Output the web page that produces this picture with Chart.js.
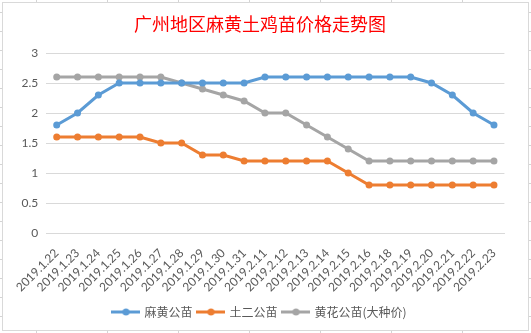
<!DOCTYPE html>
<html>
<head>
<meta charset="utf-8">
<script src="https://cdn.jsdelivr.net/npm/chart.js@4/dist/chart.umd.min.js"></script>
<style>
  html, body { margin: 0; padding: 0; }
  body {
    width: 531px; height: 333px; overflow: hidden; position: relative;
    background-color: #fff;
    background-image:
      linear-gradient(to right, #d4d4d4 1px, transparent 1px),
      linear-gradient(to bottom, #d4d4d4 1px, transparent 1px);
    background-size: 71px 19px;
    background-position: 36px 12px;
  }
  #wrap {
    position: absolute; left: 2px; top: 2px;
    width: 525px; height: 327px;
    border: 1px solid #d9d9d9; background: #fff;
  }
  canvas { display: block; }
</style>
</head>
<body>
<div id="wrap"><canvas id="c" width="525" height="327"></canvas></div>
<script>
const categories = ["2019.1.22","2019.1.23","2019.1.24","2019.1.25","2019.1.26","2019.1.27","2019.1.28","2019.1.29","2019.1.30","2019.1.31","2019.2.11","2019.2.12","2019.2.13","2019.2.14","2019.2.15","2019.2.16","2019.2.18","2019.2.19","2019.2.20","2019.2.21","2019.2.22","2019.2.23"];
const mahuangValues = [1.8,2.0,2.3,2.5,2.5,2.5,2.5,2.5,2.5,2.5,2.6,2.6,2.6,2.6,2.6,2.6,2.6,2.6,2.5,2.3,2.0,1.8];
const tuerValues = [1.6,1.6,1.6,1.6,1.6,1.5,1.5,1.3,1.3,1.2,1.2,1.2,1.2,1.2,1.0,0.8,0.8,0.8,0.8,0.8,0.8,0.8];
const huanghuaValues = [2.6,2.6,2.6,2.6,2.6,2.6,2.5,2.4,2.3,2.2,2.0,2.0,1.8,1.6,1.4,1.2,1.2,1.2,1.2,1.2,1.2,1.2];
const seriesNames = ["麻黄公苗","土二公苗","黄花公苗(大种价)"];
const titleText = "广州地区麻黄土鸡苗价格走势图";

const colors = ["#5B9BD5","#ED7D31","#A5A5A5"];

function legendIcon(color) {
  const cv = document.createElement('canvas');
  cv.width = 29; cv.height = 10;
  const x = cv.getContext('2d');
  x.strokeStyle = color; x.lineWidth = 3;
  x.beginPath(); x.moveTo(0, 5); x.lineTo(29, 5); x.stroke();
  x.fillStyle = color;
  x.beginPath(); x.arc(14.5, 5, 3.5, 0, Math.PI * 2); x.fill();
  return cv;
}
const icons = colors.map(legendIcon);

function ds(label, data, color) {
  return {
    label, data,
    borderColor: color, backgroundColor: color,
    borderWidth: 3, pointRadius: 3.5, pointHoverRadius: 3.5,
    pointBorderWidth: 0, pointBackgroundColor: color,
    tension: 0, fill: false
  };
}

new Chart(document.getElementById('c'), {
  type: 'line',
  data: {
    labels: categories,
    datasets: [
      ds(seriesNames[0], mahuangValues, colors[0]),
      ds(seriesNames[1], tuerValues, colors[1]),
      ds(seriesNames[2], huanghuaValues, colors[2])
    ]
  },
  options: {
    responsive: false,
    animation: false,
    layout: { padding: { left: 12.6, right: 23.6, top: 0, bottom: 2 } },
    plugins: {
      title: {
        display: true, text: titleText, color: '#FF0000',
        font: { family: '"Noto Sans CJK SC"', size: 18, weight: 'normal' },
        padding: { top: 10, bottom: 18.4 }
      },
      legend: {
        position: 'bottom',
        labels: {
          usePointStyle: true, pointStyleWidth: 25,
          color: '#595959',
          font: { family: '"Noto Sans CJK SC"', size: 12 },
          padding: 6,
          generateLabels(chart) {
            return chart.data.datasets.map((d, i) => ({
              text: d.label, pointStyle: icons[i], fillStyle: colors[i],
              strokeStyle: colors[i], lineWidth: 0, hidden: false, datasetIndex: i,
              fontColor: '#595959'
            }));
          }
        }
      },
      tooltip: { enabled: false }
    },
    scales: {
      y: {
        min: 0, max: 3,
        afterFit(scale) { scale.width = 30.7; },
        ticks: { stepSize: 0.5, color: '#595959', font: { family: 'Lato', size: 12 }, padding: 8,
                 callback: (v) => String(v) },
        grid: { color: '#d9d9d9', lineWidth: 1, drawTicks: false },
        border: { display: false }
      },
      x: {
        offset: true,
        afterFit(scale) { scale.height = 67; },
        ticks: { minRotation: 45, maxRotation: 45, color: '#595959', font: { family: 'Lato', size: 12 }, padding: 5, autoSkip: false },
        grid: { display: false, offset: true },
        border: { display: true, color: '#d9d9d9', width: 1 }
      }
    }
  }
});
</script>
</body>
</html>
